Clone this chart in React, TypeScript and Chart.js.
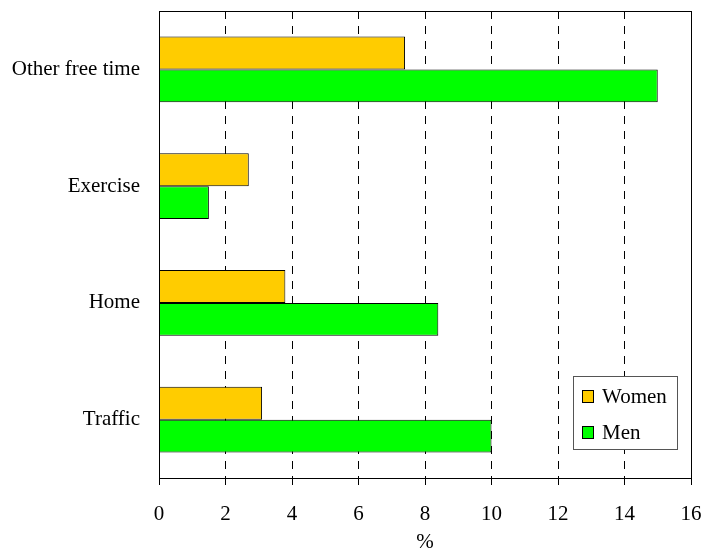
import React, { useEffect, useRef } from 'react';
import { Chart, registerables } from 'chart.js';

Chart.register(...registerables);

const categories = ['Other free time', 'Exercise', 'Home', 'Traffic'];
const seriesNames = ['Women', 'Men'];
const womenValues = [7.4, 2.7, 3.8, 3.1];
const menValues = [15.0, 1.5, 8.4, 10.0];
const seriesColors = ['#FFCC00', '#00FF00'];
const xMin = 0;
const xMax = 16;
const xStep = 2;
const xTitle = '%';

const FONT = "'Liberation Serif', 'Times New Roman', serif";

const frameAndLegend = {
  id: 'frameAndLegend',
  afterDraw(chart: any) {
    const { ctx, chartArea } = chart;
    ctx.save();
    ctx.strokeStyle = '#000';
    ctx.lineWidth = 1;
    ctx.setLineDash([]);
    ctx.strokeRect(
      Math.round(chartArea.left) + 0.5,
      Math.round(chartArea.top) + 0.5,
      Math.round(chartArea.right - chartArea.left),
      Math.round(chartArea.bottom - chartArea.top)
    );
    // legend box
    const bx = 573, by = 376, bw = 104, bh = 73;
    ctx.fillStyle = '#fff';
    ctx.fillRect(bx, by, bw, bh);
    ctx.strokeStyle = '#555';
    ctx.strokeRect(bx + 0.5, by + 0.5, bw, bh);
    ctx.font = `21px ${FONT}`;
    ctx.textBaseline = 'middle';
    ctx.textAlign = 'left';
    chart.data.datasets.forEach((ds: any, i: number) => {
      const cy = by + 20 + i * 36;
      ctx.fillStyle = ds.backgroundColor;
      ctx.fillRect(bx + 9, cy - 6, 11, 12);
      ctx.strokeStyle = '#000';
      ctx.strokeRect(bx + 9.5, cy - 5.5, 11, 12);
      ctx.fillStyle = '#000';
      ctx.fillText(ds.label, bx + 29, cy + 1);
    });
    ctx.restore();
  },
};

export default function App() {
  const ref = useRef<HTMLCanvasElement | null>(null);
  useEffect(() => {
    if (!ref.current) return;
    const chart = new Chart(ref.current, {
      type: 'bar',
      data: {
        labels: categories,
        datasets: [
          {
            label: seriesNames[0],
            data: womenValues,
            backgroundColor: seriesColors[0],
            borderColor: '#000',
            borderWidth: 1,
            barPercentage: 1,
            categoryPercentage: 0.565,
          },
          {
            label: seriesNames[1],
            data: menValues,
            backgroundColor: seriesColors[1],
            borderColor: '#000',
            borderWidth: 1,
            barPercentage: 1,
            categoryPercentage: 0.565,
          },
        ],
      },
      options: {
        indexAxis: 'y',
        responsive: false,
        animation: false,
        layout: { autoPadding: false, padding: { top: 11, right: 11, left: 0, bottom: 0 } },
        plugins: {
          legend: { display: false },
          tooltip: { enabled: false },
        },
        scales: {
          x: {
            min: xMin,
            max: xMax,
            ticks: {
              stepSize: xStep,
              color: '#000',
              font: { family: FONT, size: 21 },
              padding: 17,
            },
            grid: {
              color: '#000',
              lineWidth: 1,
              drawTicks: true,
              tickLength: 7,
              tickColor: '#000',
              tickBorderDash: [],
            },
            border: { display: true, color: '#000', width: 1, dash: [8, 7] },
            title: {
              display: true,
              text: xTitle,
              color: '#000',
              font: { family: FONT, size: 21 },
              padding: { top: 0, bottom: -7 },
            },
            afterFit(scale: any) {
              scale.height = 70;
              scale.paddingLeft = 0;
              scale.paddingRight = 0;
            },
          },
          y: {
            ticks: {
              color: '#000',
              font: { family: FONT, size: 21 },
              padding: 19,
            },
            grid: { display: false, drawTicks: false },
            border: { display: true, color: '#000', width: 1 },
            afterFit(scale: any) {
              scale.width = 159;
              scale.paddingTop = 0;
              scale.paddingBottom = 0;
            },
          },
        },
      },
      plugins: [frameAndLegend],
    });
    return () => chart.destroy();
  }, []);
  return (
    <div style={{ position: 'absolute', left: 0, top: 0, width: 702, height: 548, background: '#fff' }}>
      <canvas ref={ref} width={702} height={548} style={{ width: 702, height: 548 }} />
    </div>
  );
}
